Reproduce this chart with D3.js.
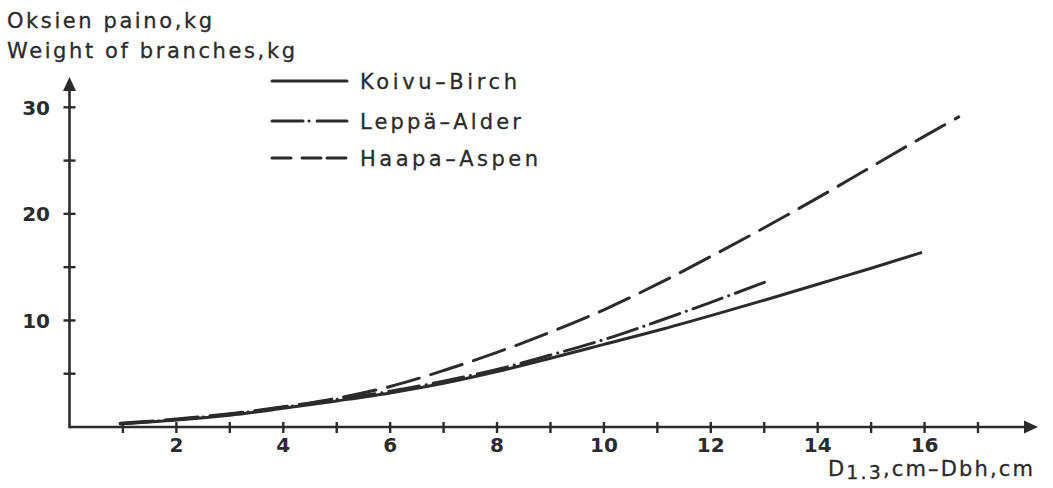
<!DOCTYPE html>
<html>
<head>
<meta charset="utf-8">
<script src="https://cdn.jsdelivr.net/npm/d3@7"></script>
<style>
  html, body { margin: 0; padding: 0; background: #fff; }
  svg { display: block; }
  text { font-family: "DejaVu Sans", "Liberation Sans", Arial, sans-serif; fill: #2b2b2b; }
  text.reg { stroke: #2b2b2b; stroke-width: 0.3px; }
</style>
</head>
<body>
<svg id="chart" width="1053" height="488"></svg>
<script>
// Branch weight (kg) against breast-height diameter (cm)
const diameter = [0.95, 2, 3, 4, 5, 6, 7, 8, 9, 10, 11, 12, 13, 14, 15, 16, 16.64];

const birchD = [0.95, 2, 3, 4, 5, 6, 7, 8, 9, 10, 11, 12, 13, 14, 15, 15.93];
const birchW = [0.3, 0.65, 1.1, 1.75, 2.45, 3.2, 4.1, 5.2, 6.45, 7.75, 9.05, 10.45, 11.9, 13.4, 14.9, 16.35];

const alderD = [0.95, 2, 3, 4, 5, 6, 7, 8, 9, 10, 11, 12, 13.07];
const alderW = [0.3, 0.7, 1.2, 1.85, 2.6, 3.35, 4.3, 5.4, 6.75, 8.2, 9.9, 11.7, 13.7];

const aspenD = diameter;
const aspenW = [0.35, 0.75, 1.25, 1.9, 2.7, 3.8, 5.3, 7.0, 8.9, 11.0, 13.4, 16.0, 18.7, 21.5, 24.4, 27.3, 29.1];

const xTickValues = [2, 4, 6, 8, 10, 12, 14, 16];
const xMinorTicks = [1, 3, 5, 7, 9, 11, 13, 15, 17];
const yTickValues = [10, 20, 30];
const yMinorTicks = [5, 15, 25];

const seriesNames = ["Koivu–Birch", "Leppä–Alder", "Haapa–Aspen"];

const ink = "#2b2b2b";
const svg = d3.select("#chart");

const x = d3.scaleLinear().domain([0, 17]).range([69.5, 978]);
const y = d3.scaleLinear().domain([0, 30]).range([427, 107.3]);

// Axes with arrow heads
const axisG = svg.append("g").attr("stroke", ink).attr("stroke-width", 2.6);
axisG.append("line").attr("x1", x(0)).attr("x2", 1026).attr("y1", y(0)).attr("y2", y(0));
axisG.append("line").attr("x1", x(0)).attr("x2", x(0)).attr("y1", y(0) + 1.3).attr("y2", 88);
svg.append("path")
  .attr("d", `M1038,${y(0)} L1024,${y(0) - 6.5} L1024,${y(0) + 6.5} Z`)
  .attr("fill", ink);
svg.append("path")
  .attr("d", `M${x(0)},77 L${x(0) - 6.5},91 L${x(0) + 6.5},91 Z`)
  .attr("fill", ink);

// Crossing tick marks
const tickG = svg.append("g").attr("stroke", ink).attr("stroke-width", 2.4);
tickG.selectAll("line.xt").data(xTickValues.concat(xMinorTicks)).join("line")
  .attr("x1", d => x(d)).attr("x2", d => x(d))
  .attr("y1", y(0) - 5).attr("y2", y(0) + 6);
tickG.selectAll("line.yt").data(yTickValues.concat(yMinorTicks)).join("line")
  .attr("x1", x(0) - 6).attr("x2", x(0) + 6)
  .attr("y1", d => y(d)).attr("y2", d => y(d));

// Tick labels
svg.selectAll("text.xl").data(xTickValues).join("text")
  .attr("x", d => x(d)).attr("y", 452)
  .attr("text-anchor", "middle")
  .attr("font-size", 20).attr("font-weight", "bold")
  .text(d => d);
svg.selectAll("text.yl").data(yTickValues).join("text")
  .attr("x", 50).attr("y", d => y(d) + 7.5)
  .attr("text-anchor", "end")
  .attr("font-size", 20).attr("font-weight", "bold")
  .text(d => d);

// Axis titles
svg.append("text").attr("class", "reg").attr("x", 7).attr("y", 28).attr("font-size", 21)
  .attr("textLength", 205).attr("lengthAdjust", "spacing")
  .text("Oksien paino,kg");
svg.append("text").attr("class", "reg").attr("x", 7).attr("y", 58).attr("font-size", 21)
  .attr("textLength", 288).attr("lengthAdjust", "spacing")
  .text("Weight of branches,kg");

const xt = svg.append("text").attr("class", "reg").attr("x", 828).attr("y", 476)
  .attr("font-size", 21).attr("textLength", 205).attr("lengthAdjust", "spacing");
xt.append("tspan").text("D");
xt.append("tspan").attr("dy", 3).attr("font-size", 19).text("1.3");
xt.append("tspan").attr("dy", -3).text(",cm–Dbh,cm");

// Curves
const line = d3.line().x(d => x(d[0])).y(d => y(d[1])).curve(d3.curveMonotoneX);
const styles = [
  { d: d3.zip(birchD, birchW), dash: null },
  { d: d3.zip(alderD, alderW), dash: "31 7 0.1 7" },
  { d: d3.zip(aspenD, aspenW), dash: "33 12" }
];
svg.append("g").selectAll("path").data(styles).join("path")
  .attr("d", s => line(s.d))
  .attr("fill", "none")
  .attr("stroke", ink)
  .attr("stroke-width", 3)
  .attr("stroke-linecap", "round")
  .attr("stroke-dasharray", s => s.dash);

// Legend
const legendY = [81, 121, 158];
const legendDash = [null, "31 6 0.1 8 40", "19 11 19 6 19"];
const lg = svg.append("g");
lg.selectAll("line").data(seriesNames).join("line")
  .attr("x1", 272).attr("x2", 347)
  .attr("y1", (d, i) => legendY[i]).attr("y2", (d, i) => legendY[i])
  .attr("stroke", ink).attr("stroke-width", 3)
  .attr("stroke-linecap", "round")
  .attr("stroke-dasharray", (d, i) => legendDash[i]);
const legendLen = [157, 161, 178];
lg.selectAll("text").data(seriesNames).join("text")
  .attr("class", "reg")
  .attr("x", 360).attr("y", (d, i) => legendY[i] + 8)
  .attr("font-size", 21)
  .attr("textLength", (d, i) => legendLen[i]).attr("lengthAdjust", "spacing")
  .text(d => d);
</script>
</body>
</html>
